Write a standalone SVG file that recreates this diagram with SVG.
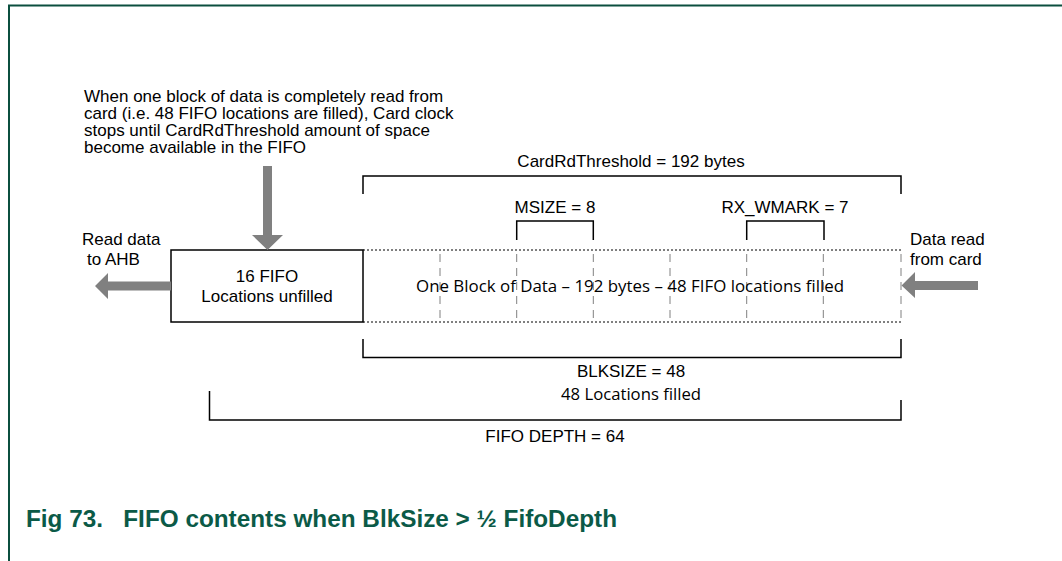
<svg xmlns="http://www.w3.org/2000/svg" width="1062" height="561" viewBox="0 0 1062 561">
<style>
.t{font-family:"Liberation Sans",Arial,sans-serif;font-size:17px;fill:#000}
.c{text-anchor:middle}
.cal{font-family:"Open Sans","Noto Sans",sans-serif;font-size:16px;fill:#000}
.br{fill:none;stroke:#000;stroke-width:1.5}
.dot{stroke:#000;stroke-width:1;stroke-dasharray:2,2;fill:none}
.dash{stroke:#808080;stroke-width:1;stroke-dasharray:8,6;fill:none}
.ar{fill:#808080}
.cap{font-family:"Liberation Sans",Arial,sans-serif;font-size:23px;font-weight:bold;fill:#0b5a47}
</style>
<rect width="1062" height="561" fill="#fff"/>
<path d="M9 561 V5.5 H1062" fill="none" stroke="#0b4f3f" stroke-width="2"/>

<g id="annotation">
<text class="t" x="84" y="101.5">When one block of data is completely read from</text>
<text class="t" x="84" y="118.8">card (i.e. 48 FIFO locations are filled), Card clock</text>
<text class="t" x="84" y="136.1">stops until CardRdThreshold amount of space</text>
<text class="t" x="84" y="153.4">become available in the FIFO</text>
</g>

<g id="fifo-unfilled">
<rect x="171" y="250" width="192" height="72" fill="#fff" stroke="#000" stroke-width="1.5"/>
<text class="t c" x="267" y="282">16 FIFO</text>
<text class="t c" x="267" y="302">Locations unfilled</text>
</g>

<g id="fifo-filled">
<path class="dot" d="M363 250 H901 M363 322 H901"/>
<path class="dash" d="M440 254 V322 M516.7 254 V322 M593.3 254 V322 M670 254 V322 M746.7 254 V322 M823.3 254 V322 M901 254 V322"/>
<text class="cal" x="630" y="292" text-anchor="middle" textLength="428" lengthAdjust="spacingAndGlyphs">One Block of Data – 192 bytes – 48 FIFO locations filled</text>
</g>

<g id="labels">
<text class="t" x="82" y="245">Read data</text>
<text class="t" x="87" y="265">to AHB</text>
<text class="t" x="910" y="245">Data read</text>
<text class="t" x="910" y="265">from card</text>
<text class="t c" x="631" y="167">CardRdThreshold = 192 bytes</text>
<text class="t c" x="555" y="213">MSIZE = 8</text>
<text class="t c" x="785" y="213">RX_WMARK = 7</text>
<text class="t c" x="631" y="377">BLKSIZE = 48</text>
<text class="cal c" x="631" y="400" textLength="140" lengthAdjust="spacingAndGlyphs">48 Locations filled</text>
<text class="t c" x="555" y="442">FIFO DEPTH = 64</text>
</g>

<g id="connectors">
<path class="br" d="M363 194 V176 H901 V194"/>
<path class="br" d="M516.7 240 V221 H593.3 V240"/>
<path class="br" d="M746.7 240 V221 H824 V240"/>
<path class="br" d="M363 339 V357.5 H901 V339"/>
<path class="br" d="M209.5 391 V420 H901 V400"/>
<polygon class="ar" points="263,166 272,166 272,235 283,235 267.5,250 252,235 263,235"/>
<polygon class="ar" points="171,281.5 171,290.5 108,290.5 108,299 95,286 108,273 108,281.5"/>
<polygon class="ar" points="978,281 978,290 915,290 915,298 901.5,285.5 915,272 915,281"/>
</g>

<text class="cap" x="26" y="527" xml:space="preserve" textLength="591" lengthAdjust="spacingAndGlyphs">Fig 73.   FIFO contents when BlkSize &gt; ½ FifoDepth</text>
</svg>
